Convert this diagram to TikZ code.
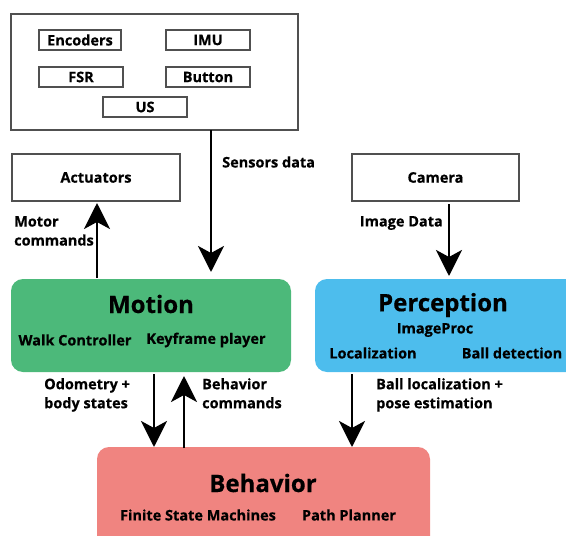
\documentclass[tikz,border=0pt]{standalone}
\usepackage{fontspec}
\setmainfont{Open Sans}[BoldFeatures={FakeBold=0.5}]
\usetikzlibrary{arrows.meta}
\definecolor{motiong}{HTML}{4CB97A}
\definecolor{percb}{HTML}{4DBDED}
\definecolor{behr}{HTML}{F08480}
\definecolor{edgegray}{HTML}{505050}
\tikzset{
  box/.style={draw=edgegray, line width=1.2pt, fill=white},
  smallbox/.style={draw=edgegray, line width=1.2pt, fill=white},
  module/.style={rounded corners=12pt},
  lbl/.style={font=\bfseries\fontsize{14.5}{19}\selectfont, inner sep=0pt},
  sub/.style={font=\bfseries\fontsize{14.5}{17}\selectfont, inner sep=0pt},
  ttl/.style={font=\bfseries\fontsize{24}{28}\selectfont, inner sep=0pt},
  flow/.style={line width=2.8pt, -{Stealth[length=26pt, width=26pt, inset=7pt]}},
}
\begin{document}
\begin{tikzpicture}[x=1pt,y=-1pt]
\useasboundingbox (0,0) rectangle (566,536);
% sensors
\draw[box] (11,14) rectangle (298,130);
\draw[smallbox] (39,30) rectangle node[sub] (enc) {Encoders} (121,50);
\draw[smallbox] (166,30) rectangle node[sub] (imu) {IMU} (250,50);
\draw[smallbox] (39,67) rectangle node[sub] (fsr) {FSR} (123,87);
\draw[smallbox] (166,67) rectangle node[sub] (btn) {Button} (250,87);
\draw[smallbox] (103,97) rectangle node[sub] (us) {US} (187,117);
% actuators, camera
\draw[box] (12,154) rectangle node[sub] (act) {Actuators} (180,201);
\draw[box] (352,154) rectangle node[sub] (cam) {Camera} (519,201);
% modules
\fill[motiong, module] (11,279) rectangle (291,372);
\node[ttl] (motion) at (151,304) {Motion};
\node[sub] (walk) at (75,340) {Walk Controller};
\node[sub] (key) at (206,340) {Keyframe player};
\fill[percb, module] (315,279) rectangle (580,372);
\node[ttl] (perc) at (443,305) {Perception};
\node[sub] (ip) at (435,330) {ImageProc};
\node[sub] (loc) at (373,353) {Localization};
\node[sub] (ball) at (512,353) {Ball detection};
\fill[behr, module] (97,447) rectangle (430,550);
\node[ttl] (beh) at (263,483) {Behavior};
\node[sub] (fsm) at (198,515) {Finite State Machines};
\node[sub] (pp) at (349,515) {Path Planner};
% coordinates for arrow ends
\coordinate (sd1) at (211,130);
\coordinate (sd2) at (211,272);
\coordinate (mc1) at (97,278);
\coordinate (mc2) at (97,203);
\coordinate (id1) at (449,204);
\coordinate (id2) at (449,276);
\coordinate (od1) at (154,374);
\coordinate (od2) at (154,447);
\coordinate (bc1) at (184,448);
\coordinate (bc2) at (184,376);
\coordinate (bl1) at (352,374);
\coordinate (bl2) at (352,447);
\draw[flow] (sd1) -- (sd2);
\draw[flow] (mc1) -- (mc2);
\draw[flow] (id1) -- (id2);
\draw[flow] (od1) -- (od2);
\draw[flow] (bc1) -- (bc2);
\draw[flow] (bl1) -- (bl2);
% labels
\node[lbl, anchor=west] (lsd) at (222,162) {Sensors data};
\node[lbl, anchor=north west, align=left] (lmc) at (14,216) {Motor\\commands};
\node[lbl, anchor=east] (lid) at (443,223) {Image Data};
\node[lbl, anchor=north west, align=left] (lod) at (44,378) {Odometry +\\body states};
\node[lbl, anchor=north west, align=left] (lbc) at (202,378) {Behavior\\commands};
\node[lbl, anchor=north west, align=left] (lbl) at (376,378) {Ball localization +\\pose estimation};
\end{tikzpicture}
\end{document}
